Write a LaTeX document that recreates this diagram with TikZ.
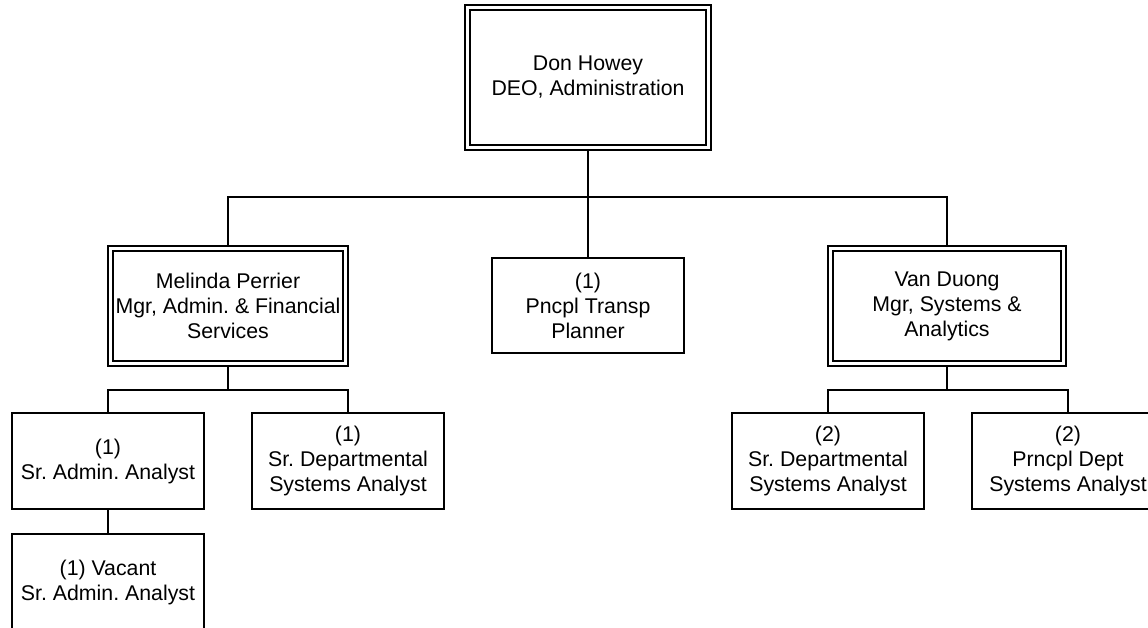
\documentclass[tikz,border=0pt]{standalone}
\usepackage{fontspec}
\setmainfont{Liberation Sans}
\usepackage{tikz}
\usetikzlibrary{backgrounds}
\frenchspacing

\tikzset{
  box/.style = {draw, fill=white, line width=1.6pt, inner sep=0pt, align=center,
    minimum width=192pt, minimum height=96pt, font=\fontsize{21.3}{25}\selectfont},
  dbox/.style = {box, double, double distance=3.2pt, line width=1.5pt},
  wire/.style = {line width=1.5pt},
}

\begin{document}
\begin{tikzpicture}[x=1pt, y=-1pt]
    \useasboundingbox (0,0) rectangle (1148,628);
    \clip (0,0) rectangle (1148,628);
    % direzione
    \node[dbox, minimum width=241pt, minimum height=140pt] (howey) at (588,77.5) {Don Howey\\DEO, Administration};
    % secondo livello
    \node[dbox, minimum width=235pt, minimum height=115pt] (perrier) at (228,306) {Melinda Perrier\\Mgr, Admin. \& Financial\\Services};
    \node[box, minimum height=95pt] (transp) at (588,305.5) {(1)\\Pncpl Transp\\Planner};
    \node[dbox, minimum width=233pt, minimum height=115pt] (duong) at (947,306) {Van Duong\\Mgr, Systems \&\\Analytics};
    % terzo livello
    \node[box] (admin) at (108,461) {(1)\\Sr. Admin. Analyst};
    \node[box] (deptA) at (348,461) {(1)\\Sr. Departmental\\Systems Analyst};
    \node[box] (vacant) at (108,582) {(1) Vacant\\Sr. Admin. Analyst};
    \node[box] (deptB) at (828,461) {(2)\\Sr. Departmental\\Systems Analyst};
    \node[box] (prncpl) at (1068,461) {(2)\\Prncpl Dept\\Systems Analyst};

    % punti delle linee orizzontali
    \coordinate (bus1) at (588,197);
    \coordinate (bus2) at (228,390);
    \coordinate (bus3) at (947,390);

    % collegamenti
    \begin{scope}[on background layer]
      \draw[wire] (howey.south) -- (transp.north);
      \draw[wire] (perrier.north) |- (bus1) -| (duong.north);
      \draw[wire] (perrier.south) -- (bus2);
      \draw[wire] (admin.north) |- (bus2) -| (deptA.north);
      \draw[wire] (admin.south) -- (vacant.north);
      \draw[wire] (duong.south) -- (bus3);
      \draw[wire] (deptB.north) |- (bus3) -| (prncpl.north);
    \end{scope}
\end{tikzpicture}
\end{document}
